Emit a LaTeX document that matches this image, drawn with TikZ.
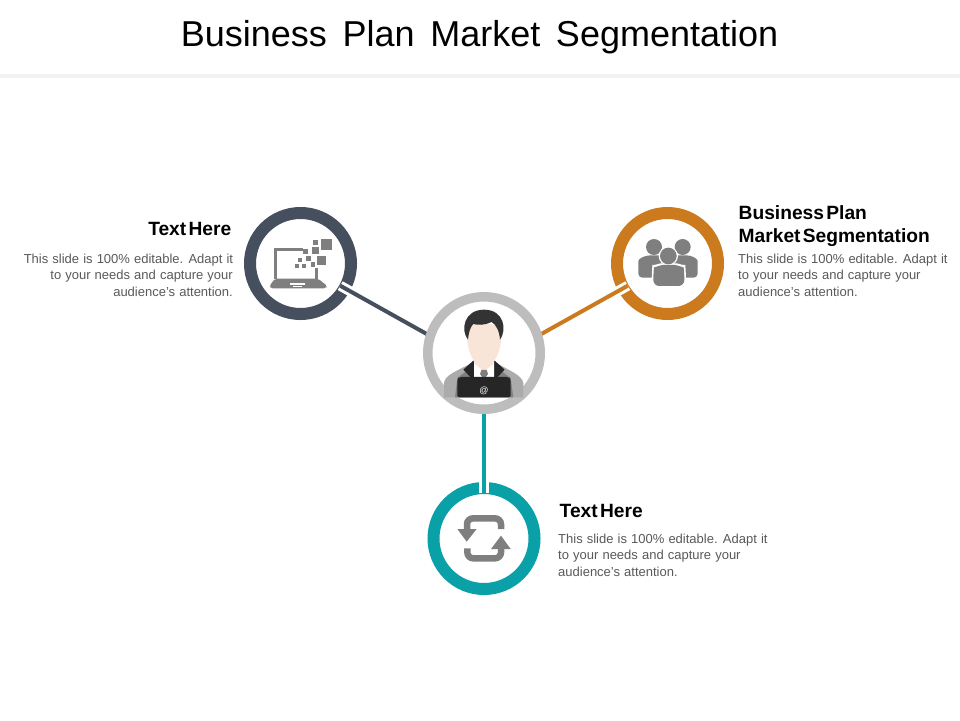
\documentclass[tikz,border=0pt]{standalone}
\usepackage{fontspec}
\setmainfont{Liberation Sans}
\definecolor{cdark}{HTML}{454F5E}
\definecolor{corange}{HTML}{CC7A1E}
\definecolor{cteal}{HTML}{0AA0A8}
\definecolor{cring}{HTML}{BDBDBD}
\definecolor{cicon}{HTML}{7F7F7F}
\definecolor{cbody}{HTML}{595959}
\definecolor{cskin}{HTML}{F9E4D8}
\newcommand{\headfnt}{\fontsize{19.2}{23.5}\selectfont\bfseries\spaceskip 0.12em\relax}
\newcommand{\bodyfnt}{\fontsize{13}{16.5}\selectfont\spaceskip 4.1pt plus 3pt\relax}
\newcommand{\titlefnt}{\fontsize{36}{40}\selectfont\spaceskip 15.7pt\relax}
\tikzset{
  ringnode/.style={circle,draw=#1,line width=12pt,minimum size=101pt,inner sep=0pt,fill=white},
  link/.style={draw=#1,line width=4pt,shorten <=-11pt,preaction={draw=white,line width=10pt}},
  headtxt/.style={font=\headfnt,text=black,inner sep=0pt},
  bodyL/.style={font=\bodyfnt,text=cbody,inner sep=0pt,align=right,anchor=north east},
  bodyR/.style={font=\bodyfnt,text=cbody,inner sep=0pt,align=left,anchor=north west},
  ic/.style={fill=cicon,draw=none},
}
\newcommand{\lineone}{\makebox[209pt][s]{This slide is 100\% editable. Adapt it}}
\begin{document}
\begin{tikzpicture}[x=1pt,y=-1pt]
\useasboundingbox (0,0) rectangle (960,720);
\fill[white] (0,0) rectangle (960,720);
\fill[black!5] (0,74) rectangle (960,78);
\node[inner sep=0pt,font=\titlefnt,text=black] (title) at (479.5,37) {Business Plan Market Segmentation};

\node[ringnode=cdark] (ringL) at (300.5,263.5) {};
\node[ringnode=corange] (ringR) at (667.5,263.5) {};
\node[ringnode=cteal] (ringB) at (484,538.5) {};
\coordinate (hub) at (484,366);

\path[link=cdark] (ringL) -- (hub);
\path[link=corange] (ringR) -- (hub);
\path[link=cteal] (ringB) -- (hub);

\node[circle,draw=cring,line width=9.5pt,minimum size=112.5pt,inner sep=0pt,fill=white] (ringC) at (484,353) {};

% laptop icon
\begin{scope}[shift={(240,200)},x=0.3333pt,y=-0.3333pt]
  \draw[cicon,line width=2.5pt] (107,237) -- (107,149) -- (190,149);
  \draw[cicon,line width=2.5pt] (230,205) -- (230,237);
  \fill[ic,rounded corners=2pt] (105,236) -- (234,236) -- (262,258) -- (258,265) -- (92,265) -- (88,258) -- cycle;
  \fill[white] (150,250) rectangle (195,254);
  \fill[white] (160,258) rectangle (187,261);
  \fill[ic] (243,117) rectangle (275,150);
  \fill[ic] (215,140) rectangle (238,162);
  \fill[ic] (220,120) rectangle (235,135);
  \fill[ic] (190,148) rectangle (205,162);
  \fill[ic] (232,168) rectangle (258,195);
  \fill[ic] (197,167) rectangle (213,182);
  \fill[ic] (173,173) rectangle (186,186);
  \fill[ic] (165,192) rectangle (178,204);
  \fill[ic] (186,192) rectangle (198,204);
  \fill[ic] (212,185) rectangle (226,200);
\end{scope}

% person
\begin{scope}[shift={(420,288)},x=0.3333pt,y=-0.3333pt]
  \fill[black!33] (72,328) -- (72,285) .. controls (75,260) and (110,250) .. (160,222) -- (225,222) .. controls (270,250) and (305,260) .. (310,285) -- (310,328) -- cycle;
  \fill[black!50] (105,328) -- (112,270) -- (150,240) -- (190,268) -- (232,240) -- (272,270) -- (280,328) -- cycle;
  \fill[white] (158,215) -- (228,215) -- (228,268) -- (158,268) -- cycle;
  \fill[black!85] (160,218) -- (130,245) -- (152,268) -- (190,268) -- cycle;
  \fill[black!85] (224,218) -- (254,245) -- (232,268) -- (194,268) -- cycle;
  \fill[white] (162,222) -- (192,250) -- (222,222) -- (222,268) -- (162,268) -- cycle;
  \fill[cskin] (165,195) -- (220,195) -- (220,228) -- (192,250) -- (165,228) -- cycle;
  \fill[cicon] (184,246) -- (200,246) -- (204,258) -- (197,268) -- (187,268) -- (180,258) -- cycle;
  \fill[cskin] (140,130) .. controls (140,200) and (168,238) .. (192,238) .. controls (216,238) and (245,200) .. (245,130) .. controls (245,100) and (140,100) .. cycle;
  \fill[black!80] (144,155) .. controls (120,125) and (133,65) .. (192,65) .. controls (252,65) and (262,125) .. (240,155) .. controls (238,128) and (228,110) .. (215,102) .. controls (195,112) and (170,112) .. (160,108) .. controls (150,118) and (146,135) .. (144,155) -- cycle;
  \fill[black!85,rounded corners=2pt] (112,328) -- (112,272) -- (118,267) -- (266,267) -- (272,272) -- (272,328) -- cycle;
  \node[text=white,inner sep=0pt,font=\fontsize{9}{9}\selectfont] (at) at (192,310) {@};
\end{scope}

% people
\begin{scope}[shift={(605,200)},x=0.3333pt,y=-0.3333pt]
  \fill[ic] (147,141) circle[radius=24];
  \fill[ic] (233,141) circle[radius=24];
  \fill[ic,rounded corners=4pt] (100,233) -- (100,195) .. controls (100,176) and (120,166) .. (147,166) .. controls (175,166) and (190,176) .. (190,195) -- (190,233) -- cycle;
  \fill[ic,rounded corners=4pt] (190,233) -- (190,195) .. controls (190,176) and (205,166) .. (233,166) .. controls (260,166) and (278,176) .. (278,195) -- (278,233) -- cycle;
  \fill[white] (190,168) circle[radius=29];
  \fill[white,rounded corners=8pt] (140,263) -- (140,218) .. controls (142,198) and (165,190) .. (191,190) .. controls (217,190) and (241,198) .. (243,218) -- (243,263) -- cycle;
  \fill[ic] (190,168) circle[radius=25];
  \fill[ic,rounded corners=6pt] (145,258) -- (145,220) .. controls (147,203) and (168,195) .. (191,195) .. controls (215,195) and (236,203) .. (238,220) -- (238,258) -- cycle;
\end{scope}

% refresh
\begin{scope}[shift={(425,480)},x=0.3333pt,y=-0.3333pt]
  \draw[cicon,line width=6.5pt,rounded corners=6pt] (126,150) -- (126,115) -- (228,115) -- (228,147);
  \fill[ic] (97,147) -- (155,147) -- (125,185) -- cycle;
  \draw[cicon,line width=6.5pt,rounded corners=6pt] (127,205) -- (127,235) -- (228,235) -- (228,204);
  \fill[ic] (198,207) -- (257,207) -- (228,167) -- cycle;
\end{scope}

% texts
\node[headtxt,anchor=east] (h1) at (231.5,229) {Text Here};
\node[bodyL] (b1) at (233,253.5) {\lineone\\to your needs and capture your\\audience's attention.};
\node[headtxt,anchor=north west,align=left] (h2) at (738.5,205) {Business Plan\\Market Segmentation};
\node[bodyR] (b2) at (738,253.5) {\lineone\\to your needs and capture your\\audience's attention.};
\node[headtxt,anchor=west] (h3) at (559.5,510.5) {Text Here};
\node[bodyR] (b3) at (558,533.5) {\lineone\\to your needs and capture your\\audience's attention.};
\end{tikzpicture}
\end{document}
